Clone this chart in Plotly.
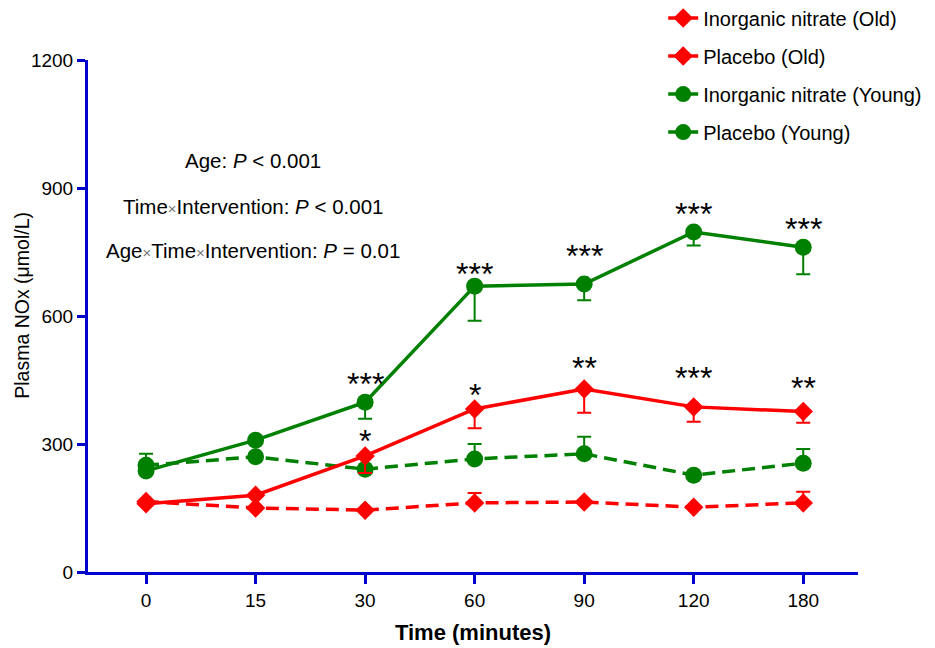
import plotly.graph_objects as go

times = ["0", "15", "30", "60", "90", "120", "180"]

nitrate_old = [160, 180, 272, 382, 429, 387, 376]
nitrate_old_err = [None, None, 40, 45, 56, 35, 26]
placebo_old = [165, 150, 145, 162, 164, 152, 162]
placebo_old_err = [None, None, None, 23, None, None, 26]
nitrate_young = [237, 309, 398, 670, 675, 797, 761]
nitrate_young_err = [None, None, 39, 81, 38, 32, 63]
placebo_young = [250, 270, 241, 265, 277, 227, 255]
placebo_young_err = [27, None, None, 35, 40, None, 33]

# significance labels and the y value where each label sits
sig_young = ["", "", "***", "***", "***", "***", "***"]
sig_young_y = [None, None, 445, 703, 746, 844, 808]
sig_old = ["", "", "*", "*", "**", "***", "**"]
sig_old_y = [None, None, 311, 420, 483, 460, 436]

RED = "#ff0000"
GREEN = "#008000"
BLUE = "#0000cd"
FONT = "Liberation Sans, Arial, sans-serif"
DASH = "13px,7px"


def zeros(errs):
    return [0 if e is not None else None for e in errs]


fig = go.Figure()

fig.add_trace(go.Scatter(
    x=times, y=placebo_young, name="Placebo (Young)", legendrank=4,
    mode="lines+markers",
    line=dict(color=GREEN, width=3.5, dash=DASH),
    marker=dict(symbol="circle", size=17, color=GREEN),
    error_y=dict(type="data", symmetric=False, array=placebo_young_err,
                 arrayminus=zeros(placebo_young_err), color=GREEN, thickness=2, width=7),
    legendgroup="d",
))
fig.add_trace(go.Scatter(
    x=times, y=nitrate_young, name="Inorganic nitrate (Young)", legendrank=3,
    mode="lines+markers",
    line=dict(color=GREEN, width=3.5),
    marker=dict(symbol="circle", size=17, color=GREEN),
    error_y=dict(type="data", symmetric=False, array=zeros(nitrate_young_err),
                 arrayminus=nitrate_young_err, color=GREEN, thickness=2, width=7),
    legendgroup="c",
))
fig.add_trace(go.Scatter(
    x=times, y=placebo_old, name="Placebo (Old)", legendrank=2,
    mode="lines+markers",
    line=dict(color=RED, width=3.5, dash=DASH),
    marker=dict(symbol="diamond", size=15, color=RED),
    error_y=dict(type="data", symmetric=False, array=placebo_old_err,
                 arrayminus=zeros(placebo_old_err), color=RED, thickness=2, width=7),
    legendgroup="b",
))
fig.add_trace(go.Scatter(
    x=times, y=nitrate_old, name="Inorganic nitrate (Old)", legendrank=1,
    mode="lines+markers",
    line=dict(color=RED, width=3.5),
    marker=dict(symbol="diamond", size=15, color=RED),
    error_y=dict(type="data", symmetric=False, array=zeros(nitrate_old_err),
                 arrayminus=nitrate_old_err, color=RED, thickness=2, width=7),
    legendgroup="a",
))

annotations = []
for labels, ys in ((sig_young, sig_young_y), (sig_old, sig_old_y)):
    for i, (txt, yv) in enumerate(zip(labels, ys)):
        if txt:
            annotations.append(dict(x=i, y=yv, xref="x", yref="y", text=txt,
                                    showarrow=False, yshift=-2,
                                    font=dict(size=32, color="black", family=FONT)))

X = '<span style="color:#777777;font-size:15px">×</span>'
stats = [
    ("Age: <i>P</i> < 0.001", 0.803),
    ("Time" + X + "Intervention: <i>P</i> < 0.001", 0.713),
    ("Age" + X + "Time" + X + "Intervention: <i>P</i> = 0.01", 0.627),
]
for txt, yp in stats:
    annotations.append(dict(xref="paper", yref="paper", x=0.214, y=yp, text=txt,
                            showarrow=False, xanchor="center", yanchor="middle",
                            font=dict(size=20.5, color="black", family=FONT)))

# y-axis title
annotations.append(dict(xref="paper", yref="paper", x=-0.0857, y=0.52,
                        text="Plasma NOx (μmol/L)", textangle=-90, showarrow=False,
                        xanchor="center", yanchor="middle",
                        font=dict(size=19.5, color="black", family=FONT)))

# page body has an 8px margin, so the figure is 8px smaller than the window
fig.update_layout(
    width=927, height=640,
    margin=dict(l=80, r=77, t=52, b=76, autoexpand=False),
    paper_bgcolor="white", plot_bgcolor="white",
    font=dict(family=FONT, color="black"),
    showlegend=True,
    legend=dict(x=0.747, y=1.12, xanchor="left", yanchor="top",
                font=dict(size=20, family=FONT), bgcolor="rgba(0,0,0,0)",
                tracegroupgap=9, traceorder="grouped"),
    annotations=annotations,
)
fig.update_xaxes(
    type="category", range=[-0.53, 6.5],
    showline=True, linecolor=BLUE, linewidth=3, mirror=False,
    ticks="outside", ticklen=9, tickwidth=3, tickcolor=BLUE,
    showgrid=False, zeroline=False,
    tickfont=dict(size=19, color="black"),
    title=dict(text="<b>Time (minutes)</b>", font=dict(size=22, color="black"), standoff=15),
)
fig.update_yaxes(
    range=[0, 1200], tickvals=[0, 300, 600, 900, 1200],
    showline=True, linecolor=BLUE, linewidth=3,
    ticks="outside", ticklen=8, tickwidth=3, tickcolor=BLUE,
    showgrid=False, zeroline=False,
    tickfont=dict(size=19, color="black"),
)

fig.write_html("out.html")
